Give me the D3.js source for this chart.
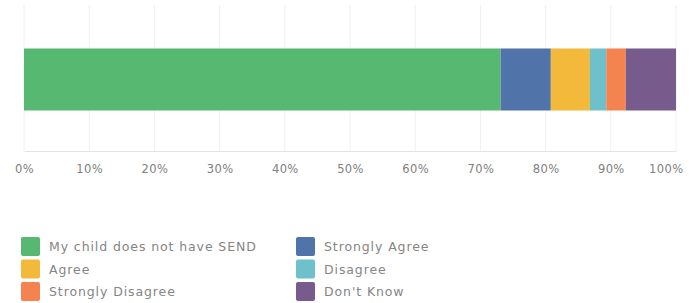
<!DOCTYPE html>
<html>
<head>
<meta charset="utf-8">
<script src="https://cdn.jsdelivr.net/npm/d3@7"></script>
<style>
  body { margin: 0; background: #fff; }
  svg { display: block; font-family: "DejaVu Sans", sans-serif; }
</style>
</head>
<body>
<div id="chart"></div>
<script>
'use strict';

// answer categories and share of responses (%)
const categories = ['My child does not have SEND', 'Strongly Agree', 'Agree', 'Disagree', 'Strongly Disagree', "Don't Know"];
const values = [73.1, 7.7, 6.0, 2.5, 3.0, 7.7];
const colors = ['#57b872', '#5073aa', '#f2b93a', '#6ec0ca', '#f4834f', '#775b8c'];
const tickValues = [0, 10, 20, 30, 40, 50, 60, 70, 80, 90, 100];
// legend order as shown (two columns)
const legendOrder = ['My child does not have SEND', 'Agree', 'Strongly Disagree', 'Strongly Agree', 'Disagree', "Don't Know"];

const width = 689;
const height = 303;
const margin = {left: 24, right: 13, top: 5, bottom: 152};

const svg = d3.select('#chart')
  .append('svg')
  .attr('width', width)
  .attr('height', height);

const x = d3.scaleLinear()
  .domain([0, 100])
  .range([margin.left, width - margin.right]);

const y = d3.scaleBand()
  .domain(['row'])
  .range([margin.top + 3, height - margin.bottom])
  .padding(0.395);

const color = d3.scaleOrdinal()
  .domain(categories)
  .range(colors);

// gridlines
svg.append('g')
  .selectAll('line')
  .data(tickValues)
  .enter()
  .append('line')
  .attr('x1', d => x(d))
  .attr('x2', d => x(d))
  .attr('y1', margin.top)
  .attr('y2', height - margin.bottom)
  .attr('stroke', '#f0f0f0')
  .attr('stroke-width', 1);

// stacked segments
let start = 0;
const segs = categories.map((c, i) => {
  const s = {key: c, x0: start, x1: start + values[i]};
  start += values[i];
  return s;
});

svg.append('g')
  .selectAll('rect')
  .data(segs)
  .enter()
  .append('rect')
  .attr('x', d => x(d.x0))
  .attr('width', d => x(d.x1) - x(d.x0))
  .attr('y', y('row'))
  .attr('height', y.bandwidth())
  .attr('fill', d => color(d.key));

// axis
const axis = svg.append('g')
  .attr('transform', `translate(0,${height - margin.bottom})`)
  .call(d3.axisBottom(x).tickValues(tickValues).tickFormat(d => d + '%').tickSize(0).tickPadding(14));
axis.select('.domain').attr('stroke', '#e3e3e3');
axis.selectAll('text')
  .attr('fill', '#808080')
  .style('font-size', '11.5px')
  .style('letter-spacing', '0.4px')
  .style('font-family', '"DejaVu Sans", sans-serif');
// keep the last label inside the picture
axis.selectAll('.tick')
  .filter(d => d === 100)
  .select('text')
  .attr('text-anchor', 'end')
  .attr('x', width - 6 - x(100));

// legend
const legend = svg.append('g');
const item = legend.selectAll('g')
  .data(legendOrder)
  .enter()
  .append('g')
  .attr('transform', (d, i) => `translate(${i < 3 ? 21 : 296},${237 + (i % 3) * 22.5})`);

item.append('rect')
  .attr('width', 19)
  .attr('height', 19)
  .attr('rx', 2)
  .attr('fill', d => color(d));

item.append('text')
  .attr('x', 28)
  .attr('y', 10)
  .attr('dy', '0.35em')
  .attr('fill', '#858585')
  .style('font-size', '12.5px')
  .style('letter-spacing', '0.9px')
  .text(d => d);
</script>
</body>
</html>
